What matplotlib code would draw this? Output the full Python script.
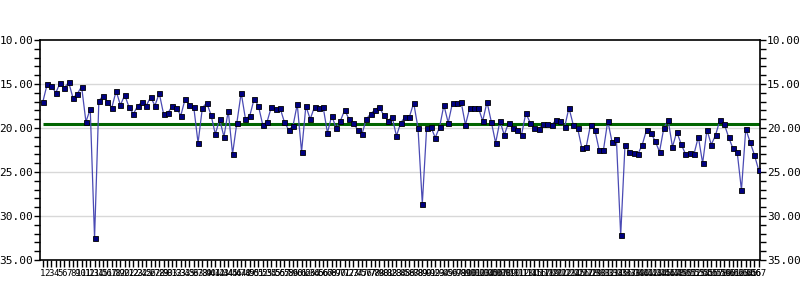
import numpy as np
import matplotlib
matplotlib.use('Agg')
import matplotlib.pyplot as plt
from matplotlib.ticker import MultipleLocator, FormatStrFormatter

# values, one per sample (1..167)
values = [
    17.05, 15.04, 15.2, 16.0, 14.9, 15.45, 14.8, 16.6, 16.1, 15.3,
    19.3, 17.85, 32.5, 16.9, 16.35, 17.05, 17.7, 15.8, 17.4, 16.25,
    17.65, 18.4, 17.5, 17.05, 17.45, 16.5, 17.45, 16.05, 18.4, 18.3,
    17.5, 17.7, 18.6, 16.7, 17.4, 17.6, 21.7, 17.7, 17.15, 18.5,
    20.7, 19.0, 21.0, 18.05, 22.95, 19.4, 16.0, 19.0, 18.6, 16.7,
    17.5, 19.65, 19.3, 17.6, 17.85, 17.7, 19.3, 20.2, 19.8, 17.3,
    22.7, 17.5, 19.0, 17.6, 17.7, 17.6, 20.55, 18.6, 20.0, 19.2,
    17.95, 19.0, 19.4, 20.2, 20.7, 19.0, 18.4, 17.95, 17.6, 18.5,
    19.2, 18.75, 20.9, 19.4, 18.75, 18.75, 17.15, 20.0, 28.6, 20.0,
    19.9, 21.1, 19.9, 17.4, 19.4, 17.15, 17.15, 17.05, 19.65, 17.7,
    17.7, 17.7, 19.2, 17.05, 19.3, 21.7, 19.2, 20.8, 19.4, 20.0,
    20.2, 20.8, 18.3, 19.4, 20.0, 20.1, 19.55, 19.55, 19.65, 19.1,
    19.2, 19.9, 17.7, 19.65, 20.0, 22.3, 22.15, 19.65, 20.2, 22.5,
    22.5, 19.2, 21.6, 21.25, 32.2, 21.9, 22.7, 22.85, 22.95, 21.9,
    20.2, 20.55, 21.5, 22.7, 20.0, 19.1, 22.15, 20.45, 21.8, 22.95,
    22.85, 22.95, 21.0, 24.0, 20.2, 21.9, 20.8, 19.1, 19.55, 21.0,
    22.3, 22.7, 27.05, 20.1, 21.6, 23.05, 24.8,
]
samples = list(range(1, len(values) + 1))
avg_line = 19.5

fig = plt.figure(figsize=(8, 3), dpi=100)
ax = fig.add_axes([0.05, 0.1333, 0.90, 0.7334])

# grid lines
for g in [15, 20, 25, 30]:
    ax.axhline(g, color='#d8d8d8', lw=1, zorder=0)

# average line
ax.hlines(avg_line, samples[0], 167.3, color='#006400', lw=2.2, zorder=2)

ax.plot(samples, values, color='#4a4ab4', lw=0.9, zorder=3,
        marker='s', markersize=3.6, markerfacecolor='#000080',
        markeredgecolor='black', markeredgewidth=0.6)

ax.set_xlim(0.35, 167.3)
ax.set_ylim(35, 10)

ax.yaxis.set_major_locator(MultipleLocator(5))
ax.yaxis.set_minor_locator(MultipleLocator(1))
ax.yaxis.set_major_formatter(FormatStrFormatter('%.2f'))
ax.tick_params(axis='y', which='both', left=True, right=True,
               labelleft=True, labelright=True, direction='out',
               labelsize=8, width=1, pad=1)
ax.tick_params(axis='y', which='major', length=4)
ax.tick_params(axis='y', which='minor', length=4)
for lab in ax.get_yticklabels():
    lab.set_family('DejaVu Sans Mono')

ax.set_xticks(samples)
ax.set_xticklabels([str(s) for s in samples], fontsize=6.5,
                   family='DejaVu Sans Mono')
ax.tick_params(axis='x', length=5, width=1, direction='out', pad=1.5)

for sp in ax.spines.values():
    sp.set_linewidth(1.2)
    sp.set_color('black')

fig.savefig('out.png', dpi=100)
